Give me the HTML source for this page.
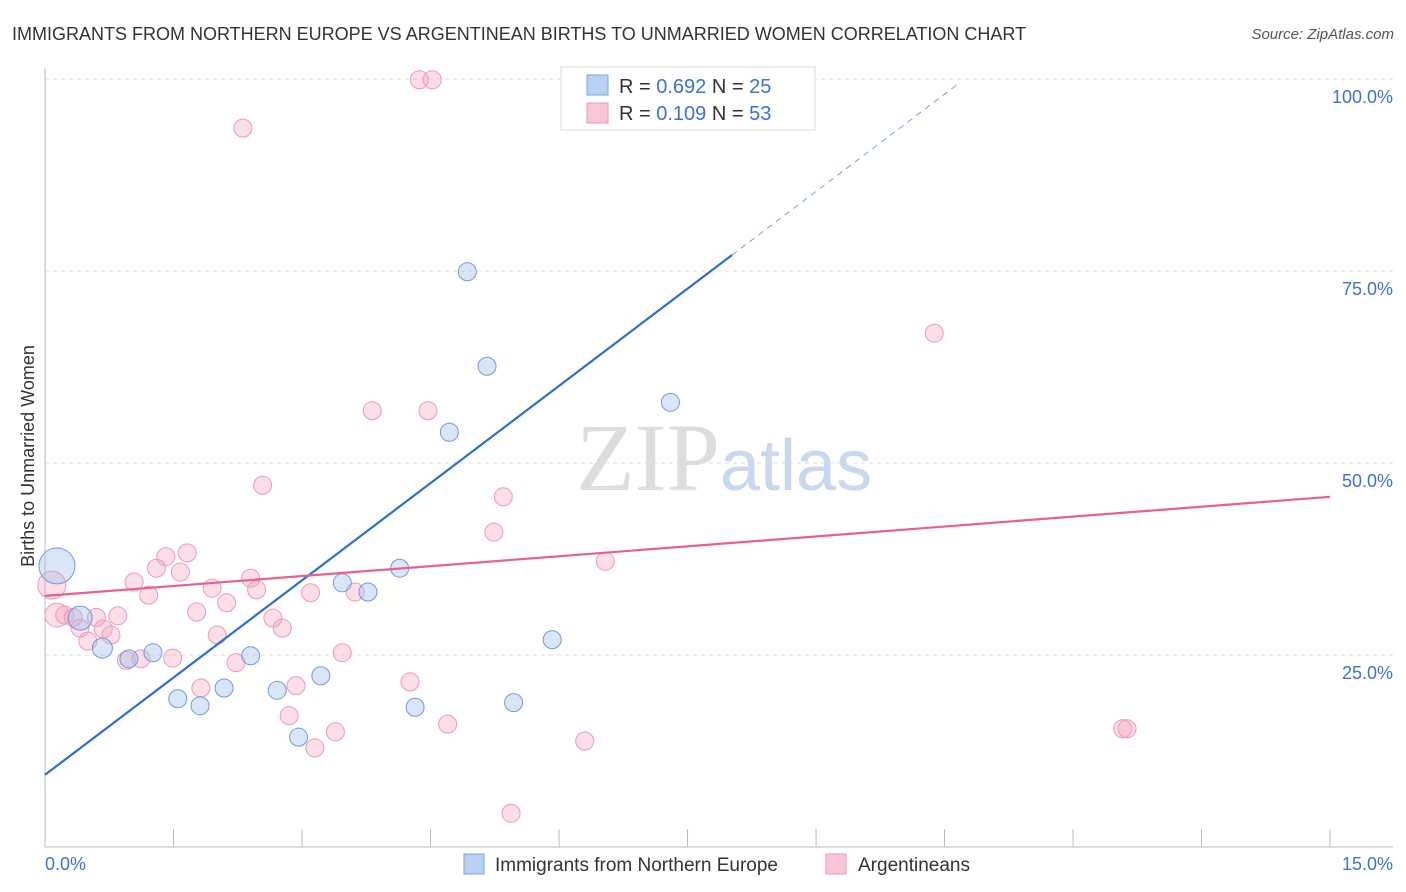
<!DOCTYPE html>
<html><head><meta charset="utf-8"><style>
body{margin:0;background:#fff;font-family:"Liberation Sans",sans-serif;}
svg{display:block}
</style></head><body>
<svg id="c" width="1406" height="892" xmlns="http://www.w3.org/2000/svg">
<text x="12" y="40" font-size="18" fill="#333">IMMIGRANTS FROM NORTHERN EUROPE VS ARGENTINEAN BIRTHS TO UNMARRIED WOMEN CORRELATION CHART</text>
<text x="1394" y="39" font-size="15" fill="#555" text-anchor="end" font-style="italic">Source: ZipAtlas.com</text>
<text x="720" y="490" font-size="96" fill="#ddd" text-anchor="end" font-family="Liberation Serif">ZIP</text>
<text x="720" y="490" font-size="72" fill="#c8d8ee">atlas</text>
<text transform="translate(34,456) rotate(-90)" font-size="18" fill="#333" text-anchor="middle">Births to Unmarried Women</text>
<g id="grid"></g><g id="pts"></g><g id="lines"></g>
<g>
<rect x="561" y="67" width="254" height="63" fill="#fff" stroke="#ddd"/>
<rect x="587" y="75" width="21" height="20" fill="#b9d0f2" stroke="#7aa3dd"/>
<rect x="587" y="103" width="21" height="20" fill="#f9c6d5" stroke="#ee97b2"/>
<text x="619" y="93" font-size="20" fill="#333">R = <tspan fill="#3b72d6">0.692</tspan>   N = <tspan fill="#3b72d6">25</tspan></text>
<text x="619" y="120" font-size="20" fill="#333">R = <tspan fill="#3b72d6"> 0.109</tspan>   N = <tspan fill="#3b72d6">53</tspan></text>
</g>
<g>
<rect x="464" y="854" width="20" height="20" fill="#b9d0f2" stroke="#7aa3dd"/>
<text x="495" y="871" font-size="19" fill="#333">Immigrants from Northern Europe</text>
<rect x="826" y="854" width="20" height="20" fill="#f9c6d5" stroke="#ee97b2"/>
<text x="858" y="871" font-size="19" fill="#333">Argentineans</text>
</g>
<text x="45" y="870" font-size="18" fill="#3b72d6">0.0%</text>
<text x="1393" y="870" font-size="18" fill="#3b72d6" text-anchor="end">15.0%</text>
</svg>
<script>
const blueX=[0.14,0.41,0.67,0.98,1.26,1.55,1.81,2.09,2.40,2.71,2.96,3.22,3.47,3.77,4.14,4.32,4.72,4.93,5.16,5.47,5.92,7.30,6.43,6.81,7.68];
const blueY=[36.6,29.8,25.9,24.5,25.3,19.3,18.4,20.7,24.9,20.4,14.3,22.3,34.4,33.2,36.3,18.2,54.0,74.9,62.6,18.8,27.0,57.9,99.9,100,99.9];
const pinkX=[0.08,0.14,0.23,0.33,0.41,0.50,0.60,0.68,0.77,0.85,0.95,1.04,1.12,1.21,1.30,1.41,1.49,1.58,1.66,1.77,1.82,1.95,2.01,2.12,2.23,2.31,2.40,2.47,2.54,2.66,2.77,2.85,2.93,3.10,3.15,3.39,3.47,3.62,3.82,4.26,4.37,4.47,4.52,4.70,5.24,5.35,5.44,6.30,6.54,10.38,12.58,12.63,6.38];
const pinkY=[34.1,30.2,30.2,29.9,28.5,26.8,29.9,28.4,27.6,30.1,24.3,34.5,24.5,32.8,36.3,37.8,24.6,35.8,38.3,30.6,20.7,33.7,27.6,31.8,24.0,93.6,35.0,33.5,47.1,29.8,28.5,17.1,21.0,33.1,12.9,15.0,25.3,33.2,56.8,21.5,99.9,56.8,99.9,16.0,41.0,45.6,4.4,13.8,37.2,66.9,15.4,15.4,99.9];
const yTicks=[25,50,75,100];
const yTickLabels=["25.0%","50.0%","75.0%","100.0%"];
const blueTrend=[9.4,8.44]; // intercept, slope
const pinkTrend=[32.7,45.6]; // y at 0, y at 15
const NS="http://www.w3.org/2000/svg";
const X=v=>45+v*85.67, Y=v=>847-v*7.68;
function mk(t,a,p){const e=document.createElementNS(NS,t);for(const k in a)e.setAttribute(k,a[k]);p.appendChild(e);return e;}
const g=document.getElementById('grid');
yTicks.forEach((t,i)=>{
 const l=mk('line',{x1:45,x2:1393,y1:Y(t),y2:Y(t),stroke:'#ddd','stroke-dasharray':'4,4'},g);
 
 
 const tx=mk('text',{x:1393,y:Y(t)+24,'font-size':18,fill:'#3b72d6','text-anchor':'end'},g);
 tx.textContent=yTickLabels[i];
 
 
});
mk('line',{x1:45,x2:45,y1:68,y2:847,stroke:'#bbb'},g);
mk('line',{x1:45,x2:1393,y1:847,y2:847,stroke:'#bbb'},g);
for(let i=0;i<=10;i++){const t=mk('line',{x1:X(i*1.5),x2:X(i*1.5),y1:829,y2:847,stroke:'#bbb'},g);
 
 }
const p=document.getElementById('pts');
pinkX.forEach((x,i)=>{const r=i==0?14:i==1?12:9;
 const c=mk('circle',{cx:X(x),cy:Y(pinkY[i]),r:r,fill:'rgba(244,160,186,0.35)',stroke:'#ee9ab4','stroke-width':1},p);
 
 });
blueX.forEach((x,i)=>{const r=i==0?18:i==1?12:i==2?10:9;
 const c=mk('circle',{cx:X(x),cy:Y(blueY[i]),r:r,fill:'rgba(160,192,238,0.4)',stroke:'#6f9ae0','stroke-width':1},p);
 
 });
const L=document.getElementById('lines');
const bx2=8.02, bx3=10.68;
const b1=mk('line',{x1:X(0),y1:Y(blueTrend[0]),x2:X(bx2),y2:Y(blueTrend[0]+blueTrend[1]*bx2),stroke:'#2a6fd6','stroke-width':2.2},L);


const b2=mk('line',{x1:X(bx2),y1:Y(blueTrend[0]+blueTrend[1]*bx2),x2:X(bx3),y2:Y(blueTrend[0]+blueTrend[1]*bx3),stroke:'#7aa3dd','stroke-width':1,'stroke-dasharray':'6,5'},L);


const pl=mk('line',{x1:X(0),y1:Y(pinkTrend[0]),x2:X(15),y2:Y(pinkTrend[1]),stroke:'#e8608c','stroke-width':2.2},L);


</script>
</body></html>
